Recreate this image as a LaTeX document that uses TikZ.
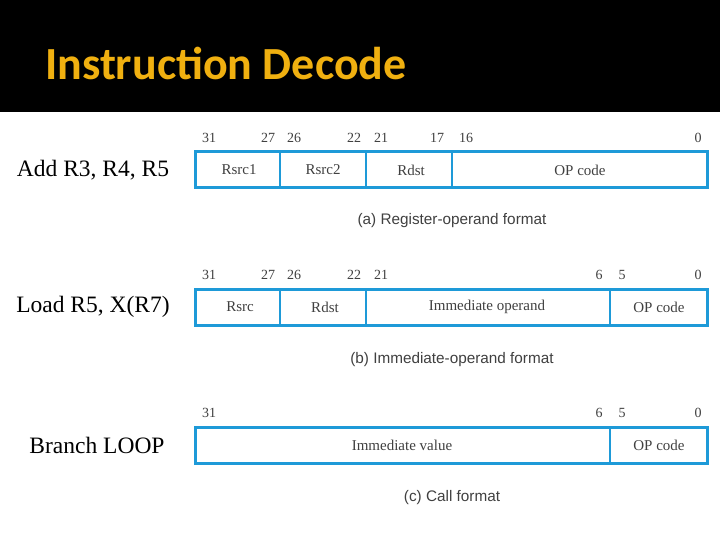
\documentclass[tikz,border=0pt]{standalone}
\usepackage{fontspec}
\setmainfont{Liberation Serif}
\newfontfamily\titlefont{Carlito}
\newfontfamily\capfont{Liberation Sans}
\definecolor{gold}{HTML}{F0B010}
\definecolor{fblue}{HTML}{1E9AD8}
\definecolor{ftext}{HTML}{404040}
\begin{document}
\begin{tikzpicture}[x=1pt,y=-1pt,
  fbox/.style={draw=fblue,line width=3pt},
  fdiv/.style={draw=fblue,line width=2pt},
  bit/.style={font=\fontsize{14}{16}\selectfont,text=ftext,inner sep=0},
  field/.style={font=\fontsize{15}{18}\selectfont,text=ftext,inner sep=0},
  captext/.style={font=\capfont\fontsize{15.3}{18}\selectfont,text=ftext,inner sep=0},
  lab/.style={font=\fontsize{23.5}{26}\selectfont,inner sep=0}]
\useasboundingbox (0,0) rectangle (720,540);
\fill[white] (0,0) rectangle (720,540);
\fill[black] (0,0) rectangle (720,112);
\node[anchor=west,text=gold,font=\titlefont\bfseries\fontsize{46}{50}\selectfont,inner sep=0] (title) at (45,63) {Instruction Decode};
% row 1
\node[lab] (l1) at (93,170) {Add R3, R4, R5};
\draw[fbox] (195,152) rectangle (707,188);
\draw[fdiv] (280,152) -- (280,188) (366,152) -- (366,188) (452,152) -- (452,188);
\foreach \x/\t in {209/31,268/27,294/26,354/22,381/21,437/17,466/16,698/0} \node[bit] at (\x,138) {\t};
\node[field] (a1) at (239,170) {Rsrc1};
\node[field] (a2) at (323,170) {Rsrc2};
\node[field] (a3) at (411,170) {Rdst};
\node[field] (a4) at (580,170) {OP code};
\node[captext] (ca) at (452,221) {(a) Register-operand format};
% row 2
\node[lab] (l2) at (93,307) {Load R5, X(R7)};
\draw[fbox] (195,289) rectangle (707,325);
\draw[fdiv] (280,289) -- (280,325) (366,289) -- (366,325) (610,289) -- (610,325);
\foreach \x/\t in {209/31,268/27,294/26,354/22,381/21,599/6,622/5,698/0} \node[bit] at (\x,275) {\t};
\node[field] (b1) at (240,307) {Rsrc};
\node[field] (b2) at (325,307) {Rdst};
\node[field] (b3) at (487,307) {Immediate operand};
\node[field] (b4) at (659,307) {OP code};
\node[captext] (cb) at (452,360) {(b) Immediate-operand format};
% row 3
\node[lab] (l3) at (97,445) {Branch LOOP};
\draw[fbox] (195,427) rectangle (707,463);
\draw[fdiv] (610,427) -- (610,463);
\foreach \x/\t in {209/31,599/6,622/5,698/0} \node[bit] at (\x,413) {\t};
\node[field] (c1) at (402,445) {Immediate value};
\node[field] (c2) at (659,445) {OP code};
\node[captext] (cc) at (452,498) {(c) Call format};
\end{tikzpicture}
\end{document}
